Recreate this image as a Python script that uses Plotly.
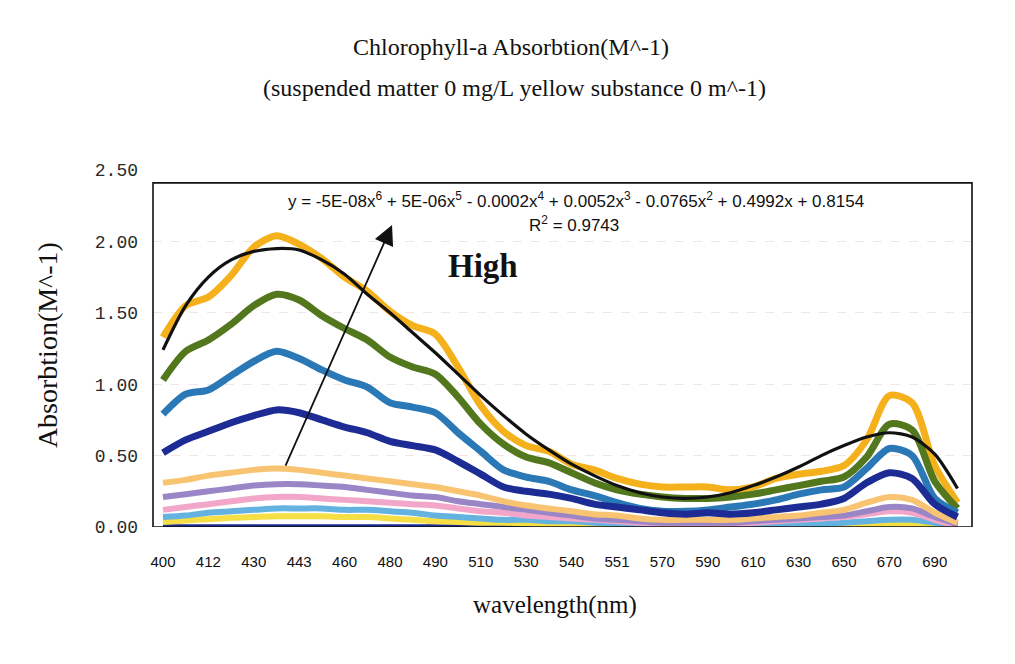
import plotly.graph_objects as go

# x tick labels (one label every second sample)
tick_labels = ["400", "412", "430", "443", "460", "480", "490", "510", "530",
               "540", "551", "570", "590", "610", "630", "650", "670", "690"]

# absorption spectra, 36 samples each
s_orange = [1.33, 1.55, 1.61, 1.76, 1.96, 2.04, 1.98, 1.88, 1.75, 1.65, 1.51, 1.41,
            1.35, 1.12, 0.85, 0.67, 0.57, 0.53, 0.44, 0.40, 0.34, 0.30, 0.28, 0.28,
            0.28, 0.26, 0.28, 0.34, 0.37, 0.39, 0.43, 0.61, 0.92, 0.87, 0.43, 0.17]
s_green = [1.03, 1.23, 1.31, 1.42, 1.55, 1.63, 1.59, 1.48, 1.39, 1.31, 1.19, 1.12,
           1.07, 0.91, 0.72, 0.58, 0.49, 0.45, 0.38, 0.31, 0.26, 0.23, 0.21, 0.20,
           0.20, 0.21, 0.23, 0.26, 0.29, 0.32, 0.35, 0.49, 0.72, 0.68, 0.32, 0.13]
s_steel = [0.79, 0.93, 0.96, 1.06, 1.16, 1.23, 1.18, 1.10, 1.03, 0.98, 0.87, 0.84,
           0.80, 0.66, 0.53, 0.40, 0.35, 0.32, 0.26, 0.22, 0.17, 0.13, 0.11, 0.11,
           0.12, 0.14, 0.16, 0.19, 0.23, 0.26, 0.28, 0.41, 0.55, 0.50, 0.20, 0.10]
s_navy = [0.52, 0.61, 0.67, 0.73, 0.78, 0.82, 0.80, 0.75, 0.70, 0.66, 0.60, 0.57,
          0.54, 0.46, 0.37, 0.28, 0.25, 0.23, 0.20, 0.16, 0.14, 0.12, 0.10, 0.09,
          0.10, 0.09, 0.10, 0.12, 0.14, 0.16, 0.20, 0.31, 0.38, 0.34, 0.16, 0.07]
s_pale_orange = [0.31, 0.33, 0.36, 0.38, 0.40, 0.41, 0.40, 0.38, 0.36, 0.34, 0.32, 0.30,
                 0.28, 0.25, 0.22, 0.18, 0.15, 0.13, 0.11, 0.09, 0.08, 0.06, 0.05, 0.05,
                 0.05, 0.05, 0.06, 0.07, 0.08, 0.10, 0.12, 0.17, 0.21, 0.19, 0.10, 0.03]
s_purple = [0.21, 0.23, 0.25, 0.27, 0.29, 0.30, 0.30, 0.29, 0.28, 0.26, 0.24, 0.22,
            0.21, 0.18, 0.16, 0.14, 0.12, 0.10, 0.08, 0.06, 0.05, 0.04, 0.03, 0.03,
            0.03, 0.03, 0.04, 0.05, 0.06, 0.07, 0.08, 0.11, 0.14, 0.13, 0.07, 0.02]
s_pink = [0.12, 0.14, 0.16, 0.18, 0.20, 0.21, 0.21, 0.20, 0.19, 0.18, 0.17, 0.16,
          0.15, 0.13, 0.11, 0.10, 0.08, 0.07, 0.06, 0.05, 0.04, 0.03, 0.02, 0.02,
          0.02, 0.02, 0.03, 0.04, 0.05, 0.06, 0.07, 0.09, 0.11, 0.10, 0.05, 0.01]
s_lightblue = [0.07, 0.08, 0.10, 0.11, 0.12, 0.13, 0.13, 0.13, 0.12, 0.12, 0.11, 0.10,
               0.08, 0.07, 0.06, 0.05, 0.05, 0.04, 0.04, 0.03, 0.02, 0.01, 0.01, 0.01,
               0.01, 0.01, 0.01, 0.01, 0.02, 0.02, 0.03, 0.04, 0.05, 0.05, 0.03, 0.01]
s_yellow = [0.035, 0.045, 0.055, 0.065, 0.07, 0.075, 0.075, 0.075, 0.07, 0.07, 0.06, 0.05,
            0.04, 0.035, 0.03, 0.03, 0.025, 0.02, 0.02, 0.01, 0.01, 0.01, 0.01, 0.01,
            0.01, 0.01, 0.01, 0.01, 0.01, 0.01, 0.01, 0.015, 0.02, 0.02, 0.01, 0.0]
s_zero = [0.005, 0.005, 0.005, 0.005, 0.005, 0.005, 0.005, 0.005, 0.005, 0.005, 0.005, 0.005,
          0.005, 0.005, 0.005, 0.005, 0.005, 0.005, 0.005, 0.005, 0.005, 0.005, 0.005, 0.005,
          0.005, 0.005, 0.005, 0.005, 0.005, 0.005, 0.005, 0.01, 0.015, 0.01, 0.005, 0.0]
# 6th order polynomial trend line
s_trend = [1.24, 1.55, 1.75, 1.87, 1.93, 1.95, 1.94, 1.87, 1.77, 1.63, 1.50, 1.36,
           1.22, 1.07, 0.92, 0.78, 0.65, 0.54, 0.44, 0.36, 0.29, 0.24, 0.21, 0.20,
           0.21, 0.24, 0.29, 0.35, 0.42, 0.50, 0.57, 0.63, 0.66, 0.63, 0.51, 0.27]

equation_text = ("y = -5E-08x<sup>6</sup> + 5E-06x<sup>5</sup> - 0.0002x<sup>4</sup> + "
                 "0.0052x<sup>3</sup> - 0.0765x<sup>2</sup> + 0.4992x + 0.8154")
r2_text = "R<sup>2</sup> = 0.9743"

x = list(range(len(s_orange)))
tickvals = x[::2]

series = [
    (s_zero, "#1b2a8f", 4),
    (s_yellow, "#f5df45", 6),
    (s_lightblue, "#64b2df", 6),
    (s_pink, "#f2a6c9", 6),
    (s_purple, "#9a86c6", 6),
    (s_pale_orange, "#f8c472", 6),
    (s_orange, "#f5b11c", 7),
    (s_green, "#52771d", 7),
    (s_steel, "#2a78b6", 7),
    (s_navy, "#1c2c94", 7),
]

fig = go.Figure()
for vals, col, w in series:
    fig.add_trace(go.Scatter(x=x, y=vals, mode="lines",
                             line=dict(color=col, width=w, shape="spline", smoothing=0.8),
                             showlegend=False, hoverinfo="skip"))
fig.add_trace(go.Scatter(x=x, y=s_trend, mode="lines",
                         line=dict(color="#111111", width=3.2, shape="spline", smoothing=0.8),
                         showlegend=False, hoverinfo="skip"))

serif = "Liberation Serif, Times New Roman, serif"
sans = "Liberation Sans, Arial, sans-serif"

fig.update_layout(
    width=1015, height=664,
    margin=dict(l=153, r=43, t=170, b=137),
    paper_bgcolor="white", plot_bgcolor="white",
    showlegend=False,
    xaxis=dict(range=[-0.44, 35.64], tickmode="array", tickvals=tickvals,
               ticktext=tick_labels, showgrid=False, zeroline=False, showline=False,
               ticks="", ticklabelstandoff=24,
               tickfont=dict(family=sans, size=15, color="#111111")),
    yaxis=dict(range=[0, 2.5], tickmode="array", tickvals=[0, 0.5, 1.0, 1.5, 2.0, 2.5],
               ticktext=["0.00", "0.50", "1.00", "1.50", "2.00", "2.50"],
               showgrid=True, gridcolor="rgba(238,200,200,0.5)", griddash="dash",
               gridwidth=1, zeroline=False, showline=False, ticks="",
               ticklabelstandoff=14,
               tickfont=dict(family="Liberation Mono, Courier New, monospace", size=18,
                             color="#2a2a2a")),
)

# plot frame
fig.add_shape(type="rect", xref="paper", x0=0, x1=1, yref="y", y0=0, y1=2.41,
              line=dict(color="#111111", width=1.6), layer="above")

# titles
fig.add_annotation(xref="paper", yref="paper", x=0.437, y=1.345, showarrow=False,
                   xanchor="center", yanchor="middle",
                   text="Chlorophyll-a Absorbtion(M^-1)",
                   font=dict(family=serif, size=24, color="#111111"))
fig.add_annotation(xref="paper", yref="paper", x=0.442, y=1.23, showarrow=False,
                   xanchor="center", yanchor="middle",
                   text="(suspended matter 0 mg/L yellow substance 0 m^-1)",
                   font=dict(family=serif, size=24, color="#111111"))
fig.add_annotation(xref="paper", yref="paper", x=0.491, y=-0.218, showarrow=False,
                   xanchor="center", yanchor="middle",
                   text="wavelength(nm)",
                   font=dict(family=serif, size=25, color="#111111"))
fig.add_annotation(xref="paper", yref="paper", x=-0.128, y=0.51, showarrow=False,
                   xanchor="center", yanchor="middle",
                   text="Absorbtion(M^-1)", textangle=-90,
                   font=dict(family=serif, size=28, color="#111111"))

# trend equation
fig.add_annotation(xref="x", yref="y", x=18.2, y=2.29, showarrow=False,
                   xanchor="center", yanchor="middle",
                   text=equation_text,
                   font=dict(family=sans, size=17, color="#111111"))
fig.add_annotation(xref="x", yref="y", x=18.1, y=2.12, showarrow=False,
                   xanchor="center", yanchor="middle",
                   text=r2_text,
                   font=dict(family=sans, size=17, color="#111111"))

# arrow and label
fig.add_annotation(xref="x", yref="y", axref="x", ayref="y",
                   x=10.09, y=2.115, ax=5.37, ay=0.42, text="",
                   showarrow=True, arrowhead=2, arrowsize=2.2, arrowwidth=1.8,
                   arrowcolor="#111111")
fig.add_annotation(xref="x", yref="y", x=14.1, y=1.83, showarrow=False,
                   xanchor="center", yanchor="middle",
                   text="<b>High</b>",
                   font=dict(family=serif, size=33, color="#111111"))

fig.write_html("out.html")
